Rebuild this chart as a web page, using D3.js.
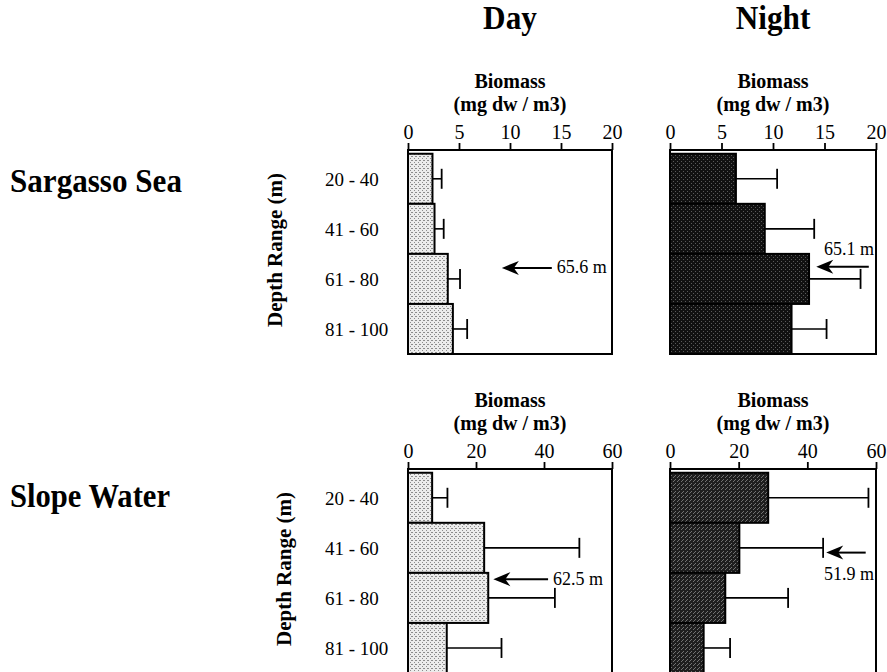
<!DOCTYPE html>
<html>
<head>
<meta charset="utf-8">
<script src="https://cdn.jsdelivr.net/npm/d3@7"></script>
<style>
body { margin: 0; background: #fff; }
svg { display: block; font-family: "Liberation Serif", "Times New Roman", serif; }
</style>
</head>
<body>
<svg id="chart" width="887" height="672"></svg>
<script>
// depth bins
var depthRanges = ["20 - 40", "41 - 60", "61 - 80", "81 - 100"];
var depthFrom = [20, 40, 60, 80];
var depthTo = [40, 60, 80, 100];

var sites = ["Sargasso Sea", "Slope Water"];
var periods = ["Day", "Night"];

// biomass (mg dw / m3), mean and error
var sargassoDay = [2.4, 2.6, 3.9, 4.4];
var sargassoDayErr = [0.9, 0.9, 1.2, 1.4];
var sargassoNight = [6.4, 9.2, 13.5, 11.8];
var sargassoNightErr = [4.0, 4.8, 5.0, 3.4];
var slopeDay = [7.1, 22.4, 23.6, 11.4];
var slopeDayErr = [4.5, 28.0, 19.6, 16.1];
var slopeNight = [28.6, 20.2, 16.1, 9.8];
var slopeNightErr = [29.2, 24.4, 18.3, 7.7];

// weighted mean depth (m)
var meanDepth = [[65.6, 65.1], [62.5, 51.9]];

var xMax = [20, 60];
var xTicks = [[0, 5, 10, 15, 20], [0, 20, 40, 60]];

var values = [[sargassoDay, sargassoNight], [slopeDay, slopeNight]];
var errors = [[sargassoDayErr, sargassoNightErr], [slopeDayErr, slopeNightErr]];

// layout
var panelTop = [150, 469];
var panelLeft = [408, 670];
var panelWidth = [204, 206];
var panelHeight = 204;
var siteLabelY = [192, 507];
var depthLabelX = [282, 291];
// arrow placement in data units [tip, tail] and label side
var arrowPos = [[[9.2, 14.1, "right"], [14.2, 19.3, "above"]],
                [[25.1, 41.2, "right"], [45.5, 57, "below"]]];

var svg = d3.select("#chart");
var defs = svg.append("defs");

function stipple(id, bg, dot, pts) {
    var p = defs.append("pattern").attr("id", id)
        .attr("patternUnits", "userSpaceOnUse").attr("width", 4).attr("height", 4);
    p.append("rect").attr("width", 4).attr("height", 4).attr("fill", bg);
    pts.forEach(function(d) {
        p.append("rect").attr("x", d[0]).attr("y", d[1]).attr("width", 1).attr("height", 1).attr("fill", dot);
    });
}
stipple("dayFill", "#ececec", "#8c8c8c", [[0, 0], [2, 2], [3, 0]]);
stipple("nightFill0", "#111", "#5a5a5a", [[1, 1], [3, 3]]);
stipple("nightFill1", "#1e1e1e", "#727272", [[1, 1], [3, 3], [2, 0]]);

function condensed(x, y, txt, size, sx, anchor) {
    svg.append("text")
        .attr("transform", "translate(" + x + "," + y + ") scale(" + sx + ",1)")
        .attr("text-anchor", anchor)
        .attr("font-weight", "bold")
        .attr("font-size", size)
        .text(txt);
}

// column titles
periods.forEach(function(p, j) {
    condensed(panelLeft[j] + panelWidth[j] / 2, 29, p, 34, 0.92, "middle");
});

sites.forEach(function(site, i) {
    condensed(10, siteLabelY[i], site, 34, i == 0 ? 0.915 : 0.9, "start");

    var top = panelTop[i];
    var y = d3.scaleLinear().domain([18.5, 100]).range([top, top + panelHeight]);

    // y axis title
    svg.append("text")
        .attr("transform", "translate(" + depthLabelX[i] + "," + (top + 100) + ") rotate(-90)")
        .attr("text-anchor", "middle")
        .attr("font-weight", "bold")
        .attr("font-size", 21)
        .text("Depth Range (m)");

    // category labels
    svg.selectAll(null).data(depthRanges).enter().append("text")
        .attr("x", 325)
        .attr("y", function(d, k) { return (y(depthFrom[k]) + y(depthTo[k])) / 2; })
        .attr("dy", "0.38em")
        .attr("font-size", 19)
        .text(function(d) { return d; });

    periods.forEach(function(p, j) {
        var x = d3.scaleLinear().domain([0, xMax[i]])
            .range([panelLeft[j], panelLeft[j] + panelWidth[j]]);
        var g = svg.append("g");
        var vals = values[i][j], errs = errors[i][j];

        g.append("text")
            .attr("x", x(xMax[i] / 2)).attr("y", top - 62)
            .attr("text-anchor", "middle").attr("font-weight", "bold").attr("font-size", 20)
            .text("Biomass");
        g.append("text")
            .attr("x", x(xMax[i] / 2)).attr("y", top - 39)
            .attr("text-anchor", "middle").attr("font-weight", "bold").attr("font-size", 20)
            .text("(mg dw / m3)");

        // bars
        g.selectAll("rect.bar").data(vals).enter().append("rect")
            .attr("class", "bar")
            .attr("x", x(0))
            .attr("y", function(d, k) { return y(depthFrom[k]); })
            .attr("width", function(d) { return x(d) - x(0); })
            .attr("height", function(d, k) { return y(depthTo[k]) - y(depthFrom[k]); })
            .attr("fill", j == 0 ? "url(#dayFill)" : "url(#nightFill" + i + ")")
            .attr("stroke", "#000")
            .attr("stroke-width", 2);

        // error bars
        vals.forEach(function(v, k) {
            var cy = (y(depthFrom[k]) + y(depthTo[k])) / 2;
            g.append("line")
                .attr("x1", x(v)).attr("x2", x(v + errs[k]))
                .attr("y1", cy).attr("y2", cy)
                .attr("stroke", "#000").attr("stroke-width", 1.6);
            g.append("line")
                .attr("x1", x(v + errs[k])).attr("x2", x(v + errs[k]))
                .attr("y1", cy - 10).attr("y2", cy + 10)
                .attr("stroke", "#000").attr("stroke-width", 1.8);
        });

        // frame
        g.append("rect")
            .attr("x", x(0)).attr("y", top)
            .attr("width", x(xMax[i]) - x(0)).attr("height", panelHeight)
            .attr("fill", "none").attr("stroke", "#000").attr("stroke-width", 2);

        // top axis
        var axis = g.append("g")
            .attr("transform", "translate(0," + top + ")")
            .call(d3.axisTop(x).tickValues(xTicks[i]).tickSize(7).tickPadding(4).tickFormat(d3.format("d")));
        axis.select(".domain").remove();
        axis.selectAll("line").attr("stroke-width", 1.8);
        axis.selectAll("text").attr("font-size", 20)
            .attr("font-family", "Liberation Serif, serif").attr("fill", "#000");

        // mean depth arrow
        var a = arrowPos[i][j];
        var ay = y(meanDepth[i][j]);
        var tip = x(a[0]), tail = x(a[1]);
        g.append("line")
            .attr("x1", tip + 10).attr("x2", tail)
            .attr("y1", ay).attr("y2", ay)
            .attr("stroke", "#000").attr("stroke-width", 2);
        g.append("path")
            .attr("d", "M" + tip + "," + ay + "L" + (tip + 17) + "," + (ay - 7) +
                "L" + (tip + 12) + "," + ay + "L" + (tip + 17) + "," + (ay + 7) + "Z")
            .attr("fill", "#000");
        var lbl = g.append("text").attr("font-size", 18).text(meanDepth[i][j] + " m");
        if (a[2] == "right") {
            lbl.attr("x", tail + 5).attr("y", ay).attr("dy", "0.3em");
        } else if (a[2] == "above") {
            lbl.attr("x", x(xMax[i]) - 2).attr("y", ay - 12).attr("text-anchor", "end");
        } else {
            lbl.attr("x", x(xMax[i]) - 2).attr("y", ay + 27).attr("text-anchor", "end");
        }
    });
});
</script>
</body>
</html>
